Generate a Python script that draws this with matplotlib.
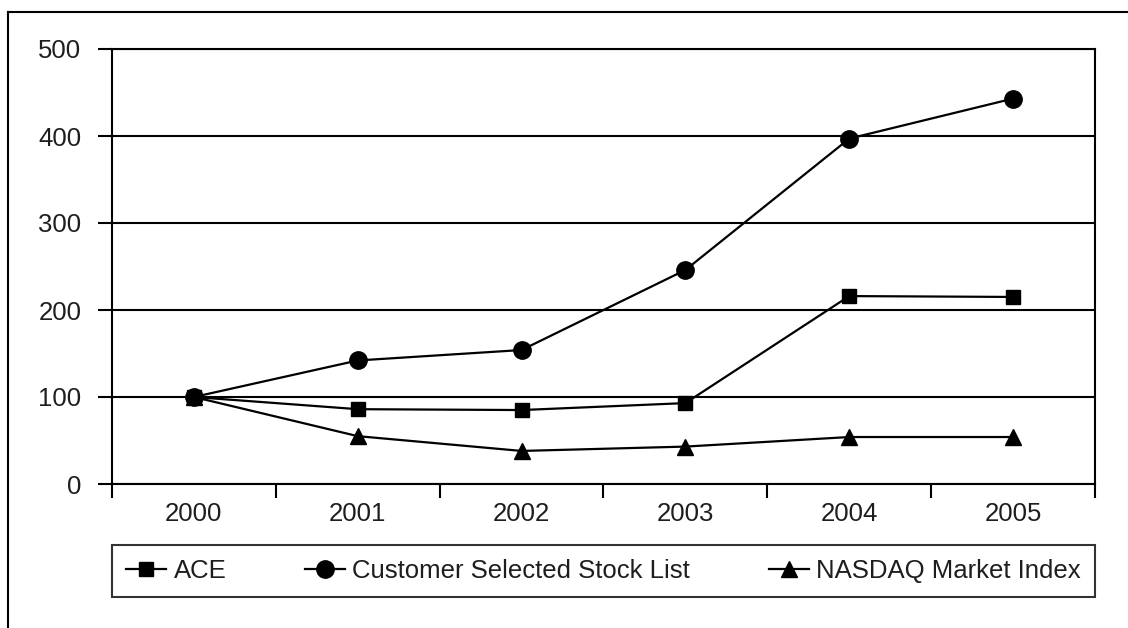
import matplotlib
matplotlib.use("Agg")
import matplotlib.pyplot as plt
from matplotlib.lines import Line2D

plt.rcParams['font.family'] = ['Liberation Sans', 'DejaVu Sans']

years = ["2000", "2001", "2002", "2003", "2004", "2005"]
ace = [100, 86, 85, 93, 216, 215]
customer_list = [100, 142, 154, 246, 397, 443]
nasdaq = [100, 55, 38, 43, 54, 54]
y_ticks = [0, 100, 200, 300, 400, 500]

W, H = 1128, 628
FS = 18.5
TXT = '#1e1e1e'
fig = plt.figure(figsize=(W / 100, H / 100), dpi=100)
ax = fig.add_axes([112 / W, 1 - 484 / H, (1095 - 112) / W, (484 - 49) / H])

x = list(range(len(years)))
lw = 1.6
ax.plot(x, ace, color='black', lw=lw, marker='s', ms=10.5, label='ACE', zorder=3)
ax.plot(x, customer_list, color='black', lw=lw, marker='o', ms=12.5,
        label='Customer Selected Stock List', zorder=3)
ax.plot(x, nasdaq, color='black', lw=lw, marker='^', ms=11,
        label='NASDAQ Market Index', zorder=3)

ax.set_xlim(-0.5, len(years) - 0.5)
ax.set_ylim(0, 500)
ax.set_yticks(y_ticks)
ax.set_yticklabels([str(v) for v in y_ticks])
ax.set_xticks(x)
ax.set_xticklabels(years)
ax.set_xticks([i - 0.5 for i in range(len(years) + 1)], minor=True)

ax.yaxis.grid(True, color='black', lw=1.5)
ax.set_axisbelow(True)
for s in ax.spines.values():
    s.set_linewidth(1.5)
    s.set_color('black')

ax.tick_params(axis='y', length=10, width=1.5, labelsize=FS, pad=12,
               color='black', labelcolor=TXT)
ax.tick_params(axis='x', which='major', length=0, labelsize=FS, pad=13, labelcolor=TXT)
ax.tick_params(axis='x', which='minor', length=10, width=1.5, direction='out')

leg = ax.legend(loc='lower left',
                bbox_to_anchor=(0, (484 - 597) / 435, 1.0, (597 - 546) / 435),
                mode='expand', ncol=3, fontsize=FS, frameon=True, fancybox=False,
                edgecolor='black', handlelength=1.55, handletextpad=0.3,
                borderaxespad=0, borderpad=0.55)
leg.get_frame().set_linewidth(1.5)
for t in leg.get_texts():
    t.set_color(TXT)

# outer frame lines
fig.add_artist(Line2D([8 / W, 8 / W], [0, 1 - 12 / H], color='black', lw=1.5,
                      transform=fig.transFigure))
fig.add_artist(Line2D([8 / W, 1], [1 - 12 / H, 1 - 12 / H], color='black', lw=1.5,
                      transform=fig.transFigure))

fig.savefig("out.png", dpi=100)
